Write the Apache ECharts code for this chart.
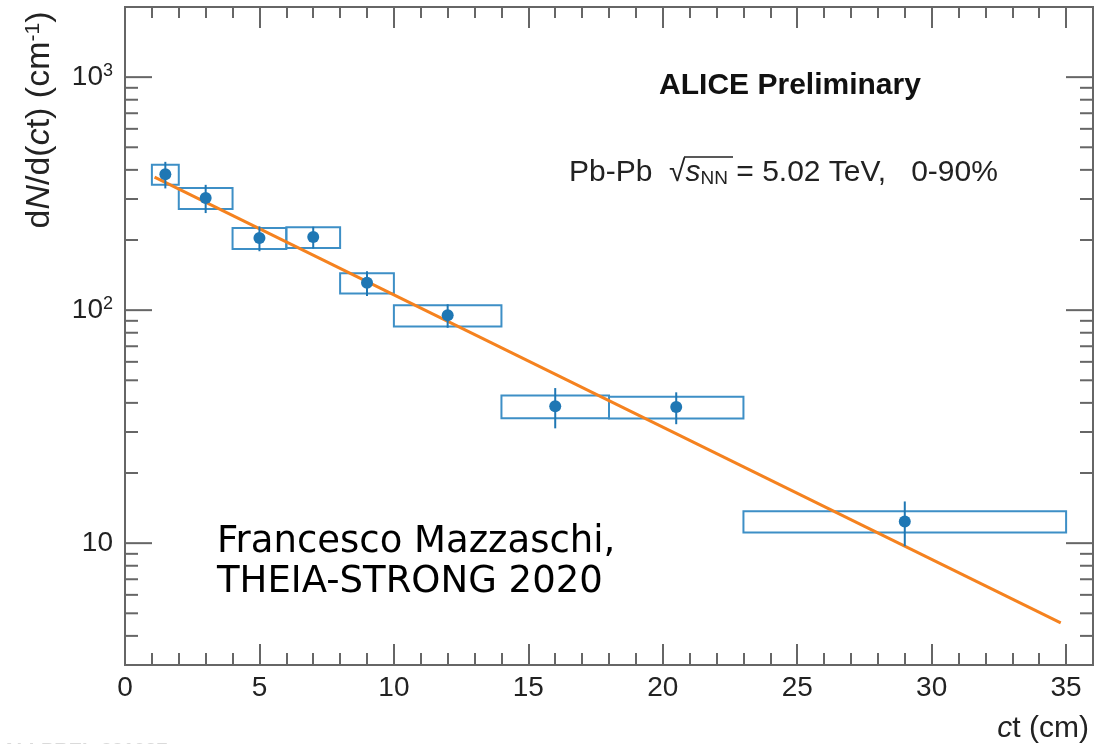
<!DOCTYPE html>
<html>
	<head>
		<meta charset="UTF-8">
		<title>dN/d(ct)</title>
		<style>
			html, body { margin: 0; padding: 0; background: #fff; }
			#chart { width: 1094px; height: 744px; }
		</style>
	</head>
	<body>
		<div id="chart"></div>
	</body>
	<script src="https://cdn.jsdelivr.net/npm/echarts@6/dist/echarts.min.js" type="text/javascript" charset="utf-8"></script>
	<script type="text/javascript">
		// data
		var binLow  = [1, 2, 4, 6, 8, 10, 14, 18, 23];
		var binHigh = [2, 4, 6, 8, 10, 14, 18, 23, 35];
		var ctCenter = [1.5, 3, 5, 7, 9, 12, 16, 20.5, 29];
		var dNdct   = [383, 303, 204, 206, 131, 95, 38.7, 38.4, 12.4];
		var statErr = [50, 42, 25, 22, 16, 11, 7.6, 6, 2.7];
		var sysErr  = [38, 31, 21, 21, 13, 10, 4.3, 4.1, 1.3];

		// exponential fit, end points
		var fitCt = [1.1, 34.8];
		var fitY  = [372, 4.55];

		// log ticks on the y axis
		var yMajorTicks = [10, 100, 1000];
		var yMinorTicks = [4, 5, 6, 7, 8, 9, 20, 30, 40, 50, 60, 70, 80, 90, 200, 300, 400, 500, 600, 700, 800, 900];

		var xMin = 0, xMax = 36, yMin = 3, yMax = 2000;
		var frameColor = '#666';
		var font = '"Liberation Sans", Arial, sans-serif';

		var chart = echarts.init(document.getElementById('chart'));

		var boxData = [], errData = [], pointData = [], fitData = [], tickData = [];
		for (var i = 0; i < dNdct.length; i++) {
			boxData.push([binLow[i], binHigh[i], dNdct[i], sysErr[i]]);
			errData.push([ctCenter[i], dNdct[i], statErr[i]]);
			pointData.push([ctCenter[i], dNdct[i]]);
		}
		for (var j = 0; j < fitCt.length; j++) {
			fitData.push([fitCt[j], fitY[j]]);
		}
		// [x, value, isMajor]
		yMinorTicks.forEach(function (v) { tickData.push([xMin, v, 0]); });
		yMajorTicks.forEach(function (v) { tickData.push([xMin, v, 1]); });

		function xAxisDef(pos, interval, tickLen, labels) {
			return {
				type: 'value', position: pos, min: xMin, max: xMax, interval: interval,
				axisLine: { show: false },
				axisTick: { show: true, inside: true, length: tickLen, lineStyle: { color: frameColor, width: 2 } },
				axisLabel: labels ? {
					show: true, margin: 9, color: '#222', fontSize: 28, fontFamily: font,
					showMaxLabel: false
				} : { show: false },
				splitLine: { show: false }
			};
		}

		// y ticks on the axis side are drawn by the custom series below
		var yAxisDef = {
			type: 'log', logBase: 10, position: 'left', min: yMin, max: yMax,
			axisLine: { show: false },
			axisTick: { show: false },
			axisLabel: {
				show: true, margin: 12, color: '#222', fontFamily: font,
				showMinLabel: false, showMaxLabel: false,
				formatter: function (v) {
					var e = Math.log10(v);
					var n = Math.round(e);
					if (Math.abs(e - n) > 1e-6) return '';
					if (n === 1) return '{b|10}';
					return '{b|10}{s|' + n + '}';
				},
				rich: {
					b: { fontSize: 28, fontFamily: font, color: '#222', lineHeight: 30 },
					s: { fontSize: 18, fontFamily: font, color: '#222', verticalAlign: 'top', lineHeight: 18 }
				}
			},
			splitLine: { show: false }
		};

		// y ticks, left and right, inside the frame
		function renderYTick(params, api) {
			var v = api.value(1);
			var len = api.value(2) ? 27 : 13;
			var l = api.coord([xMin, v]);
			var r = api.coord([xMax, v]);
			var st = { stroke: frameColor, lineWidth: 2 };
			return {
				type: 'group',
				children: [
					{ type: 'line', shape: { x1: l[0], y1: l[1], x2: l[0] + len, y2: l[1] }, style: st },
					{ type: 'line', shape: { x1: r[0] - len, y1: r[1], x2: r[0], y2: r[1] }, style: st }
				]
			};
		}

		// systematic boxes
		function renderBox(params, api) {
			var a = api.coord([api.value(0), api.value(2) + api.value(3)]);
			var b = api.coord([api.value(1), api.value(2) - api.value(3)]);
			return {
				type: 'rect',
				shape: { x: a[0], y: a[1], width: b[0] - a[0], height: b[1] - a[1] },
				style: { fill: 'none', stroke: '#3d8fc6', lineWidth: 2 }
			};
		}

		// statistical error bars
		function renderErr(params, api) {
			var top = api.coord([api.value(0), api.value(1) + api.value(2)]);
			var bot = api.coord([api.value(0), api.value(1) - api.value(2)]);
			return {
				type: 'line',
				shape: { x1: top[0], y1: top[1], x2: bot[0], y2: bot[1] },
				style: { stroke: '#1f77b4', lineWidth: 2 }
			};
		}

		var option = {
			animation: false,
			backgroundColor: '#fff',
			grid: {
				left: 125, right: 1, top: 7, bottom: 79,
				show: true, borderColor: frameColor, borderWidth: 2, backgroundColor: 'transparent'
			},
			xAxis: [
				xAxisDef('bottom', 5, 21, true),
				xAxisDef('bottom', 1, 12, false),
				xAxisDef('top', 5, 21, false),
				xAxisDef('top', 1, 11, false)
			],
			yAxis: [yAxisDef],
			graphic: [
				{
					type: 'text', x: 40, y: 120, rotation: Math.PI / 2,
					style: {
						text: 'd{i|N}/d({i|c}t) (cm{s|-1})',
						align: 'center', verticalAlign: 'middle',
						font: '34px ' + font, fill: '#222',
						rich: {
							i: { fontSize: 34, fontStyle: 'italic', fontFamily: font, fill: '#222' },
							s: { fontSize: 21, fontFamily: font, verticalAlign: 'top', lineHeight: 21, fill: '#222' }
						}
					}
				},
				{
					type: 'text', x: 1089, y: 729,
					style: {
						text: '{i|c}t (cm)', align: 'right', verticalAlign: 'middle',
						font: '30px ' + font, fill: '#222',
						rich: { i: { fontSize: 30, fontStyle: 'italic', fontFamily: font, fill: '#222' } }
					}
				},
				{
					type: 'text', x: 790, y: 86,
					style: {
						text: 'ALICE Preliminary', align: 'center', verticalAlign: 'middle',
						font: 'bold 30px ' + font, fill: '#111'
					}
				},
				{
					type: 'text', x: 569, y: 173,
					style: {
						text: 'Pb-Pb  √{i|s}{sub|NN} = 5.02 TeV,   0-90%', verticalAlign: 'middle',
						font: '30px ' + font, fill: '#222',
						rich: {
							i: { fontSize: 30, fontStyle: 'italic', fontFamily: font, fill: '#222' },
							sub: { fontSize: 19, fontFamily: font, verticalAlign: 'bottom', lineHeight: 19, fill: '#222' }
						}
					}
				},
				{
					type: 'line', shape: { x1: 684, y1: 157, x2: 733, y2: 157 },
					style: { stroke: '#222', lineWidth: 1.5 }
				},
				{
					type: 'text', x: 217, y: 522,
					style: {
						text: 'Francesco Mazzaschi,\nTHEIA-STRONG 2020', verticalAlign: 'top',
						font: '37px "DejaVu Sans", sans-serif', lineHeight: 40, fill: '#000'
					}
				},
				{
					type: 'text', x: 2, y: 741,
					style: { text: 'ALI-PREL-331937', font: 'bold 20px ' + font, fill: '#dadada', verticalAlign: 'top' }
				}
			],
			series: [
				{
					type: 'custom', name: 'y ticks', xAxisIndex: 0, yAxisIndex: 0,
					renderItem: renderYTick, silent: true, clip: false,
					encode: { x: 0, y: 1 },
					data: tickData, z: 1
				},
				{
					type: 'custom', name: 'syst', xAxisIndex: 0, yAxisIndex: 0,
					renderItem: renderBox, encode: { x: [0, 1], y: 2 },
					data: boxData, z: 2
				},
				{
					type: 'line', name: 'fit', xAxisIndex: 0, yAxisIndex: 0,
					data: fitData, showSymbol: false, symbol: 'none',
					lineStyle: { color: '#f5821f', width: 3 }, z: 3
				},
				{
					type: 'custom', name: 'stat', xAxisIndex: 0, yAxisIndex: 0,
					renderItem: renderErr, encode: { x: 0, y: 1 },
					data: errData, z: 4
				},
				{
					type: 'scatter', name: 'data', xAxisIndex: 0, yAxisIndex: 0,
					data: pointData, symbolSize: 12,
					itemStyle: { color: '#1f77b4', opacity: 1 }, z: 5
				}
			]
		};

		chart.setOption(option);
	</script>
</html>
